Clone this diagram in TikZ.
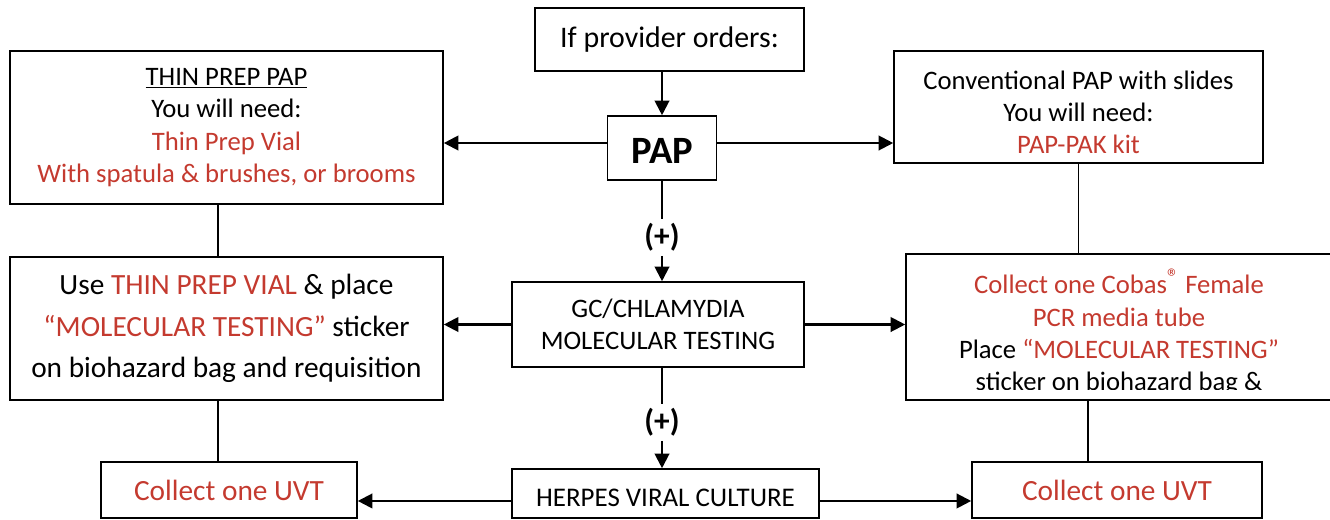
\documentclass[tikz,border=0pt]{standalone}
\usepackage{fontspec}
\setmainfont{Carlito}
\usetikzlibrary{arrows.meta}
\definecolor{redtxt}{RGB}{196,58,47}

\begin{document}
\begin{tikzpicture}[x=0.75pt,y=0.75pt,yscale=-1,xscale=1,
  box/.style={draw,line width=1.2pt,inner sep=0pt,align=center},
  arr/.style={line width=1.6pt,-{Triangle[length=11pt,width=11pt]}},
  link/.style={line width=1.1pt},
  plus/.style={inner sep=3pt,font=\fontsize{23.5}{27}\selectfont\bfseries}]
\useasboundingbox (0,0) rectangle (1330,519);

%Shape: top of the chart
\node[box,minimum width=201.75pt,minimum height=47.25pt,font=\fontsize{22.4}{27}\selectfont] (orders) at (669.5,39.5) {If provider orders:};
\node[box,minimum width=81.75pt,minimum height=48pt,text height=23pt,text depth=0pt,font=\fontsize{29}{34}\selectfont\bfseries] (pap) at (662,148) {PAP};

%Shape: PAP choices
\node[box,minimum width=324.75pt,minimum height=114.75pt,font=\fontsize{20}{24.3}\selectfont] (thin) at (226.5,127.5)
  {\underline{THIN PREP PAP}\\You will need:\\\textcolor{redtxt}{Thin Prep Vial}\\\textcolor{redtxt}{With spatula \& brushes, or brooms}};
\node[box,minimum width=276.75pt,minimum height=84pt,font=\fontsize{20}{24.3}\selectfont] (conv) at (1078.5,107)
  {\rule{0pt}{22pt}Conventional PAP with slides\\You will need:\\\textcolor{redtxt}{PAP-PAK kit}};

%Shape: middle row
\node[plus] (plus1) at (662,237.5) {(+)};
\node[box,minimum width=219pt,minimum height=63.75pt,font=\fontsize{20}{23.8}\selectfont] (gc) at (658,324.5)
  {GC/CHLAMYDIA\\MOLECULAR TESTING};
\node[box,minimum width=324.75pt,minimum height=107.25pt,font=\fontsize{22}{31}\selectfont] (use) at (226.5,328.5)
  {Use \textcolor{redtxt}{THIN PREP VIAL} \& place\\\textcolor{redtxt}{“MOLECULAR TESTING”} sticker\\on biohazard bag and requisition};
\node[box,minimum width=319.5pt,minimum height=109.5pt] (cobas) at (1119,327) {};
\begin{scope}
\clip (906,254) rectangle (1332,389);
\node[anchor=north,inner sep=0pt,align=center,font=\fontsize{20}{24.2}\selectfont] (cobastxt) at (1119,275)
  {\textcolor{redtxt}{Collect one Cobas\smash{\raisebox{0.3em}{\fontsize{18}{18}\selectfont ®}} Female}\\\textcolor{redtxt}{PCR media tube}\\Place \textcolor{redtxt}{“MOLECULAR TESTING”}\\sticker on biohazard bag \&};
\end{scope}

%Shape: bottom row
\node[plus] (plus2) at (662,422.5) {(+)};
\node[box,minimum width=230.25pt,minimum height=36.75pt,text height=20pt,text depth=0pt,font=\fontsize{20.2}{24}\selectfont] (hsv) at (665.5,493.5) {HERPES VIRAL CULTURE};
\node[box,minimum width=192pt,minimum height=42pt,font=\fontsize{22}{27}\selectfont,text=redtxt] (uvtl) at (229,490) {Collect one UVT};
\node[box,minimum width=217.5pt,minimum height=42pt,font=\fontsize{22}{27}\selectfont,text=redtxt] (uvtr) at (1117,490) {Collect one UVT};

%Connectors
\draw[arr] (orders.south -| pap.north) -- (pap.north);
\draw[arr] ([yshift=-3.75pt]pap.west) -- ([yshift=-3.75pt]pap.west -| thin.east);
\draw[arr] ([yshift=-3.75pt]pap.east) -- ([yshift=-3.75pt]pap.east -| conv.west);
\draw[link] (pap.south) -- (plus1.north);
\draw[arr] (plus1.south) -- (plus1.south |- gc.north);
\draw[arr] (gc.west) -- (gc.west -| use.east);
\draw[arr] (gc.east) -- (gc.east -| cobas.west);
\draw[link] ([xshift=-6.4pt]thin.south) -- ([xshift=-6.4pt]thin.south |- use.north);
\draw[link] (conv.south) -- (conv.south |- cobas.north);
\draw[link] (gc.south -| plus2.north) -- (plus2.north);
\draw[arr] (plus2.south) -- (plus2.south |- hsv.north);
\draw[link] ([xshift=-6.4pt]use.south) -- ([xshift=-6.4pt]use.south |- uvtl.north);
\draw[link] ([xshift=-21.75pt]uvtr.north |- cobas.south) -- ([xshift=-21.75pt]uvtr.north);
\draw[arr] ([yshift=5.6pt]hsv.west) -- ([yshift=5.6pt]hsv.west -| uvtl.east);
\draw[arr] ([yshift=5.6pt]hsv.east) -- ([yshift=5.6pt]hsv.east -| uvtr.west);
\end{tikzpicture}
\end{document}
